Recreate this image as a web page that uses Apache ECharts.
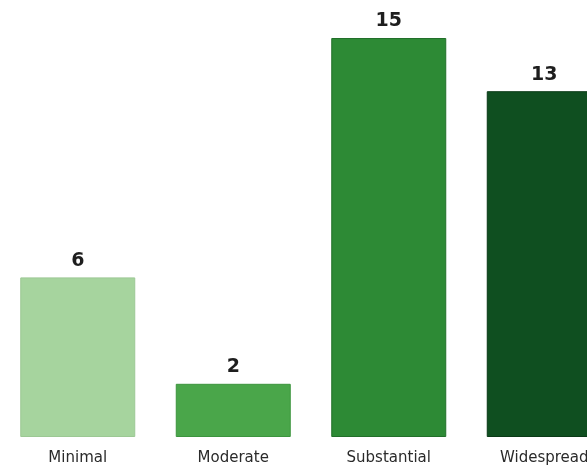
<!DOCTYPE html>
<html>
<head>
<meta charset="utf-8">
<script src="https://cdn.jsdelivr.net/npm/echarts@6/dist/echarts.min.js"></script>
<style>
  html, body { margin: 0; padding: 0; background: #fff; }
  #chart { width: 587px; height: 466px; }
</style>
</head>
<body>
<div id="chart"></div>
<script>
  // categories and values
  let categories = ['Minimal', 'Moderate', 'Substantial', 'Widespread']
  let values = [6, 2, 15, 13]
  let colors = ['#a6d49e', '#4aa64a', '#2d8a35', '#0f4f20']
  let borders = ['#9cc894', '#3c943e', '#226f2a', '#0a3a17']

  let mychart = echarts.init(document.querySelector('#chart'))
  let option = {
    animation: false,
    backgroundColor: '#fff',
    grid: {
      left: 0,
      right: -35,
      top: 38,
      bottom: 29,
      containLabel: false,
      outerBoundsMode: 'none'
    },
    xAxis: {
      type: 'category',
      data: categories,
      axisLine: { show: false },
      axisTick: { show: false },
      axisLabel: {
        color: '#2a2a2a',
        fontSize: 15,
        fontFamily: 'DejaVu Sans',
        margin: 14
      }
    },
    yAxis: {
      type: 'value',
      min: 0,
      max: 15,
      show: false,
      splitLine: { show: false }
    },
    series: [
      {
        type: 'bar',
        barWidth: 115,
        data: values.map(function(v, i) {
          return {
            value: v,
            itemStyle: { color: colors[i], borderColor: borders[i], borderWidth: 1 }
          }
        }),
        label: {
          show: true,
          position: 'top',
          distance: 7,
          color: '#1e1e1e',
          fontSize: 19,
          fontWeight: 'bold',
          fontFamily: 'DejaVu Sans'
        }
      }
    ]
  }
  mychart.setOption(option)
</script>
</body>
</html>
